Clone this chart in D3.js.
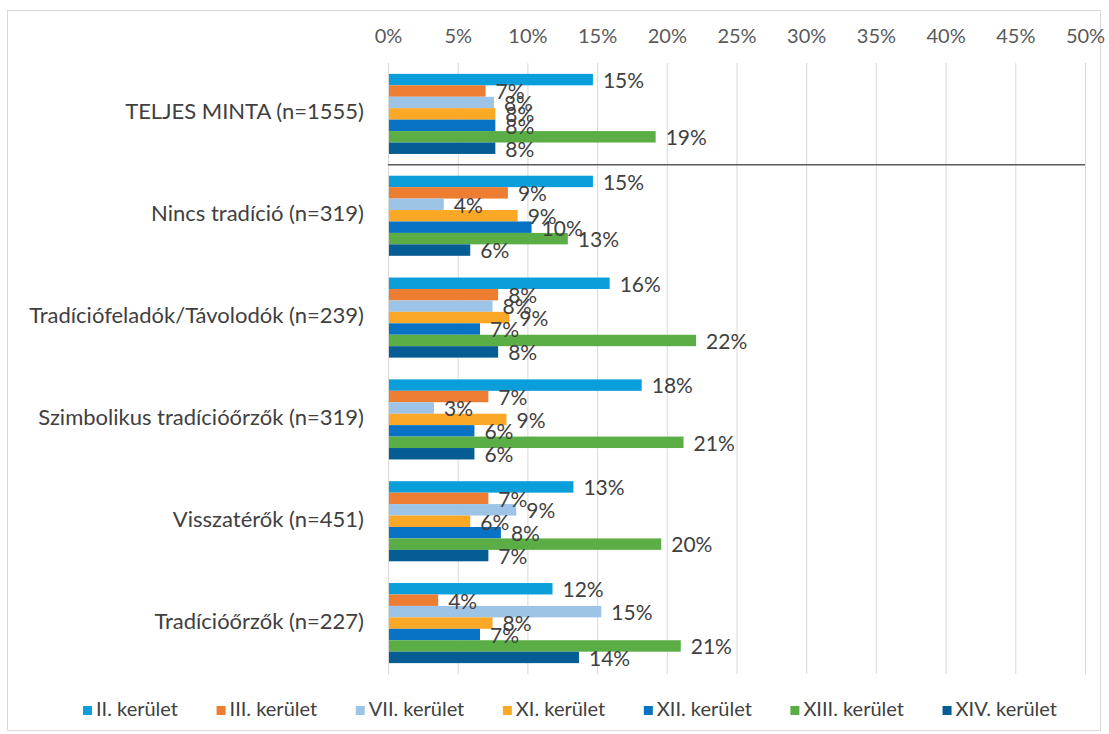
<!DOCTYPE html>
<html>
<head>
<meta charset="utf-8">
<script src="https://cdn.jsdelivr.net/npm/d3@7"></script>
<style>
  body { margin: 0; background: #fff; }
  svg { display: block; font-family: Lato, "Liberation Sans", sans-serif; }
</style>
</head>
<body>
<div id="chart"></div>
<script>
// groups (rows), top to bottom
const groups = [
  "TELJES MINTA (n=1555)",
  "Nincs tradíció (n=319)",
  "Tradíciófeladók/Távolodók (n=239)",
  "Szimbolikus tradícióőrzők (n=319)",
  "Visszatérők (n=451)",
  "Tradícióőrzők (n=227)"
];

const districts = ["II. kerület", "III. kerület", "VII. kerület", "XI. kerület", "XII. kerület", "XIII. kerület", "XIV. kerület"];

// one array per district, values in percent, same order as groups
const kerII   = [14.7, 14.7, 15.9, 18.2, 13.3, 11.8];
const kerIII  = [7.0, 8.6, 7.9, 7.2, 7.2, 3.6];
const kerVII  = [7.6, 4.0, 7.5, 3.3, 9.2, 15.3];
const kerXI   = [7.7, 9.3, 8.7, 8.5, 5.9, 7.5];
const kerXII  = [7.7, 10.3, 6.6, 6.2, 8.1, 6.6];
const kerXIII = [19.2, 12.9, 22.1, 21.2, 19.6, 21.0];
const kerXIV  = [7.7, 5.9, 7.9, 6.2, 7.2, 13.7];

const seriesValues = [kerII, kerIII, kerVII, kerXI, kerXII, kerXIII, kerXIV];
const colors = ["#0a9fdb", "#ed7d31", "#9dc3e6", "#fba826", "#0872c4", "#5aae45", "#065d93"];

const xTicks = [0, 5, 10, 15, 20, 25, 30, 35, 40, 45, 50];

const W = 1109, H = 734;
const plot = { left: 388, right: 1085, top: 63, bottom: 674 };

const svg = d3.select("#chart").append("svg")
  .attr("width", W)
  .attr("height", H);

// outer frame
svg.append("rect")
  .attr("x", 7.5).attr("y", 10.5)
  .attr("width", 1093).attr("height", 720)
  .attr("fill", "none")
  .attr("stroke", "#d9d9d9");

const x = d3.scaleLinear().domain([0, 50]).range([plot.left, plot.right]);
const y0 = d3.scaleBand().domain(groups).range([plot.top, plot.bottom]);
const y1 = d3.scaleBand().domain(districts).range([0, y0.bandwidth()]).paddingOuter(0.95);

// gridlines
svg.append("g")
  .selectAll("line")
  .data(xTicks)
  .join("line")
  .attr("x1", d => x(d) + 0.5).attr("x2", d => x(d) + 0.5)
  .attr("y1", plot.top).attr("y2", plot.bottom)
  .attr("stroke", "#d9d9d9")
  .attr("stroke-width", 1);

// top axis labels
const xAxis = d3.axisTop(x).tickValues(xTicks).tickFormat(d => d + "%").tickSize(0).tickPadding(0);
const ax = svg.append("g")
  .attr("transform", `translate(0, 43)`)
  .call(xAxis);
ax.select(".domain").remove();
ax.selectAll("text")
  .attr("font-family", "Lato, sans-serif")
  .attr("font-size", 20)
  .attr("fill", "#595959");

// bars
const rows = [];
groups.forEach((g, gi) => {
  districts.forEach((d, di) => {
    rows.push({ group: g, district: d, value: seriesValues[di][gi], color: colors[di] });
  });
});

const barG = svg.append("g");
barG.selectAll("rect")
  .data(rows)
  .join("rect")
  .attr("x", x(0))
  .attr("y", d => y0(d.group) + y1(d.district))
  .attr("width", d => x(d.value) - x(0))
  .attr("height", y1.bandwidth())
  .attr("fill", d => d.color);

// value labels
barG.selectAll("text")
  .data(rows)
  .join("text")
  .attr("x", d => x(d.value) + 10)
  .attr("y", d => y0(d.group) + y1(d.district) + y1.bandwidth() / 2 + 3)
  .attr("dominant-baseline", "middle")
  .attr("font-size", 21)
  .attr("fill", "#404040")
  .text(d => Math.round(d.value) + "%");

// vertical axis line
svg.append("line")
  .attr("x1", plot.left + 0.5).attr("x2", plot.left + 0.5)
  .attr("y1", plot.top).attr("y2", plot.bottom)
  .attr("stroke", "#d9d9d9");

// separator below the full sample
svg.append("line")
  .attr("x1", plot.left).attr("x2", plot.right)
  .attr("y1", y0(groups[1])).attr("y2", y0(groups[1]))
  .attr("stroke", "#595959")
  .attr("stroke-width", 1.5);

// category labels
svg.append("g")
  .selectAll("text")
  .data(groups)
  .join("text")
  .attr("x", 364)
  .attr("y", d => y0(d) + y0.bandwidth() / 2)
  .attr("text-anchor", "end")
  .attr("dominant-baseline", "middle")
  .attr("font-size", 22)
  .attr("fill", "#404040")
  .text(d => d);

// legend, spread between x=83 and x=1057
const legend = svg.append("g").attr("transform", "translate(0, 711)");
const items = legend.selectAll("g")
  .data(districts)
  .join("g");
items.append("rect")
  .attr("width", 9).attr("height", 9)
  .attr("y", -5)
  .attr("fill", (d, i) => colors[i]);
items.append("text")
  .attr("x", 13)
  .attr("dominant-baseline", "middle")
  .attr("font-size", 20)
  .attr("fill", "#404040")
  .text(d => d);

const widths = [];
items.each(function () { widths.push(this.getBBox().width); });
const gap = (1057 - 83 - d3.sum(widths)) / (widths.length - 1);
let lx = 83;
items.attr("transform", (d, i) => {
  const t = `translate(${lx}, 0)`;
  lx += widths[i] + gap;
  return t;
});
</script>
</body>
</html>
